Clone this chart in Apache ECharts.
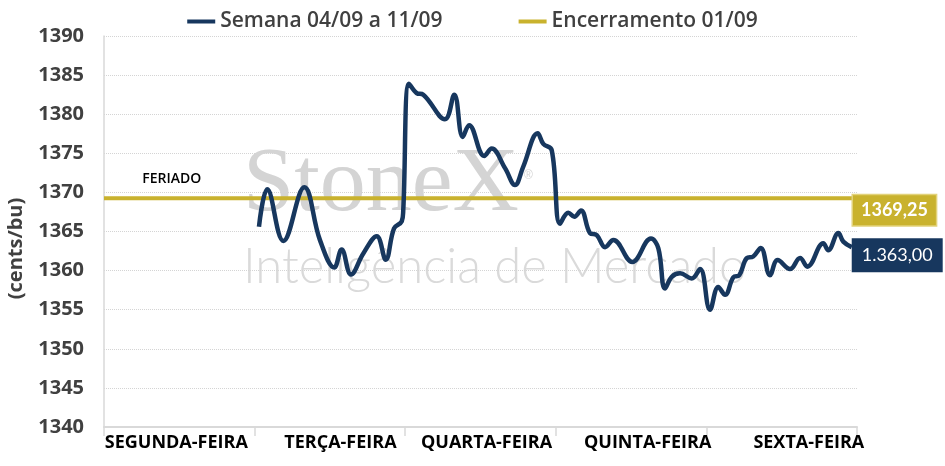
<!DOCTYPE html>
<html>
<head>
<meta charset="utf-8">
<script src="https://cdn.jsdelivr.net/npm/echarts@6/dist/echarts.min.js"></script>
<style>
    html, body { margin: 0; padding: 0; background: #fff; }
    #chart { width: 945px; height: 466px; }
</style>
</head>
<body>
<div id="chart"></div>
<script>
    // dias da semana (eixo x)
    var dias = ['SEGUNDA-FEIRA', 'TERÇA-FEIRA', 'QUARTA-FEIRA', 'QUINTA-FEIRA', 'SEXTA-FEIRA'];
    // posicao dos rotulos dentro de cada dia
    var diasRotulo = [0.48, 1.57, 2.54, 3.61, 4.68];

    // semana 04/09 a 11/09 (tempo em dias, preco em cents/bu)
    var semanaTempo = [
        1.029, 1.084, 1.191, 1.330, 1.434, 1.529, 1.578, 1.640, 1.722, 1.811,
        1.871, 1.926, 1.977, 1.987, 2.025, 2.076, 2.120, 2.264, 2.326, 2.382,
        2.424, 2.525, 2.574, 2.663, 2.729, 2.784, 2.880, 2.917, 2.973, 3.028,
        3.083, 3.123, 3.167, 3.227, 3.272, 3.327, 3.382, 3.508, 3.632, 3.681,
        3.725, 3.770, 3.825, 3.902, 3.958, 4.024, 4.079, 4.124, 4.179, 4.218,
        4.268, 4.311, 4.361, 4.422, 4.473, 4.555, 4.622, 4.670, 4.776, 4.809,
        4.876, 4.909, 4.965
    ];
    var semanaPreco = [
        1365.6, 1370.4, 1363.8, 1370.65, 1363.9, 1360.4, 1362.7, 1359.5, 1362.2, 1364.4,
        1361.4, 1365.4, 1366.3, 1367.7, 1383.9, 1382.7, 1382.5, 1379.35, 1382.5, 1377.1,
        1378.6, 1374.65, 1375.6, 1373.1, 1370.95, 1373.3, 1377.55, 1376.2, 1375.4, 1366.0,
        1367.4, 1366.9, 1367.7, 1364.8, 1364.55, 1363.0, 1363.9, 1361.1, 1364.1, 1362.85,
        1357.7, 1359.2, 1359.65, 1359.0, 1360.2, 1355.0, 1357.9, 1356.9, 1359.15, 1359.4,
        1361.6, 1361.8, 1362.9, 1359.4, 1361.35, 1360.2, 1361.6, 1360.5, 1363.5, 1362.6,
        1364.8, 1363.7, 1363.0
    ];

    // encerramento 01/09
    var encerramentoTempo = [0, 5];
    var encerramentoPreco = [1369.25, 1369.25];

    var yTicks = { min: 1340, max: 1390, step: 5 };

    var navy = '#17375e';
    var gold = '#c9b22e';

    var fmtBR = function (v, milhar) {
        var parts = v.toFixed(2).split('.');
        var inteiro = parts[0];
        if (milhar) inteiro = inteiro.replace(/\B(?=(\d{3})+(?!\d))/g, '.');
        return inteiro + ',' + parts[1];
    };

    var pares = function (xs, ys) {
        return xs.map(function (x, i) { return [x, ys[i]]; });
    };

    var chart = echarts.init(document.getElementById('chart'));

    var option = {
        animation: false,
        backgroundColor: '#ffffff',
        textStyle: { fontFamily: 'Open Sans' },
        legend: {
            top: 6,
            left: 'center',
            itemGap: 76,
            itemWidth: 28,
            itemHeight: 4,
            icon: 'rect',
            textStyle: { fontSize: 21, fontWeight: 600, color: '#404040', fontFamily: 'Open Sans' },
            data: ['Semana 04/09 a 11/09', 'Encerramento 01/09']
        },
        grid: { left: 104, right: 88, top: 36, bottom: 39, outerBoundsMode: 'none' },
        graphic: [
            {
                type: 'text', left: 243, top: 140, z: 0, silent: true,
                style: { text: 'StoneX', fill: '#d4d4d4', font: '92px "Liberation Serif"' }
            },
            {
                type: 'text', left: 524, top: 170, z: 0, silent: true,
                style: { text: '®', fill: '#d4d4d4', font: '12px "Liberation Sans"' }
            },
            {
                type: 'text', left: 243, top: 243, z: 0, silent: true,
                style: { text: 'Inteligência de Mercado', fill: '#dadada', font: '300 49px Lato' }
            }
        ],
        xAxis: {
            type: 'value',
            min: 0,
            max: 5,
            interval: 1,
            axisLine: { show: true, lineStyle: { color: '#d9d9d9', width: 2 } },
            axisTick: { show: true, length: 9, lineStyle: { color: '#d9d9d9', width: 1.5 } },
            splitLine: { show: false },
            axisLabel: {
                customValues: diasRotulo,
                formatter: function (v) { return dias[Math.floor(v)]; },
                color: '#000',
                fontSize: 18,
                fontWeight: 'bold',
                fontFamily: 'Open Sans',
                margin: 7
            }
        },
        yAxis: {
            type: 'value',
            min: yTicks.min,
            max: yTicks.max,
            interval: yTicks.step,
            name: '(cents/bu)',
            nameLocation: 'middle',
            nameGap: 78,
            nameTextStyle: {
                fontSize: 20, fontWeight: 'bold', color: '#404040', fontFamily: 'Open Sans',
                padding: [0, 34, 0, 0]
            },
            axisLine: { show: true, lineStyle: { color: '#d9d9d9', width: 1.5 } },
            axisTick: { show: false },
            splitLine: { show: true, lineStyle: { color: '#d4d4d4', type: 'dotted', width: 1 } },
            axisLabel: {
                formatter: function (v) { return String(v); },
                color: '#404040',
                fontSize: 20,
                fontWeight: 'bold',
                fontFamily: 'Open Sans',
                margin: 20
            }
        },
        series: [
            {
                name: 'Semana 04/09 a 11/09',
                type: 'line',
                smooth: 0.4,
                showSymbol: false,
                symbol: 'none',
                z: 3,
                lineStyle: { color: navy, width: 4.5 },
                itemStyle: { color: navy },
                data: pares(semanaTempo, semanaPreco),
                endLabel: {
                    show: true,
                    distance: 0,
                    offset: [0, 8],
                    formatter: function (p) { return fmtBR(p.value[1], true); },
                    backgroundColor: navy,
                    color: '#fff',
                    fontSize: 18,
                    fontFamily: 'Lato',
                    padding: [8, 10, 8, 10]
                }
            },
            {
                name: 'Encerramento 01/09',
                type: 'line',
                showSymbol: false,
                symbol: 'none',
                z: 2,
                lineStyle: { color: gold, width: 4 },
                itemStyle: { color: gold },
                data: pares(encerramentoTempo, encerramentoPreco),
                endLabel: {
                    show: true,
                    distance: 0,
                    offset: [-4, 12],
                    formatter: function (p) { return fmtBR(p.value[1], false); },
                    backgroundColor: gold,
                    borderColor: '#e2d27a',
                    borderWidth: 1.5,
                    color: '#fff',
                    fontSize: 18,
                    fontWeight: 'bold',
                    fontFamily: 'Lato',
                    padding: [6, 8, 6, 8]
                },
                markPoint: {
                    symbol: 'circle',
                    symbolSize: 0,
                    silent: true,
                    label: {
                        show: true,
                        formatter: 'FERIADO',
                        color: '#000',
                        fontSize: 14,
                        fontWeight: 600,
                        fontFamily: 'Open Sans'
                    },
                    data: [{ coord: [0.45, 1371.7] }]
                }
            }
        ]
    };

    chart.setOption(option);
    window.addEventListener('resize', function () { chart.resize(); }, false);
</script>
</body>
</html>
